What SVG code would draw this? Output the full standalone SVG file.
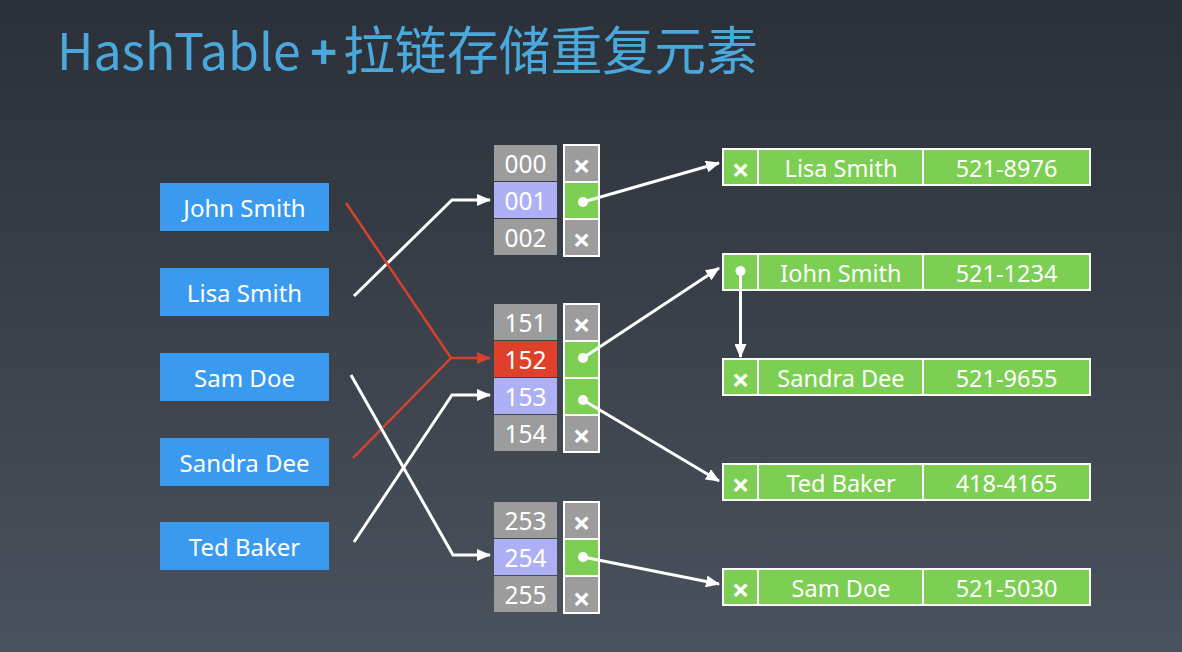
<svg xmlns="http://www.w3.org/2000/svg" width="1182" height="652" viewBox="0 0 1182 652">
  <defs>
    <linearGradient id="bg" x1="0" y1="0" x2="0" y2="1">
      <stop offset="0" stop-color="#2b3038"/>
      <stop offset="1" stop-color="#4a525d"/>
    </linearGradient>
    <marker id="arrow-white" viewBox="0 0 14 12" refX="13" refY="6" markerWidth="14" markerHeight="12" markerUnits="userSpaceOnUse" orient="auto">
      <path d="M0,0 L14,6 L0,12 z" fill="#ffffff"/>
    </marker>
    <marker id="arrow-red" viewBox="0 0 14 12" refX="13" refY="6" markerWidth="14" markerHeight="12" markerUnits="userSpaceOnUse" orient="auto">
      <path d="M0,0 L14,6 L0,12 z" fill="#d8412c"/>
    </marker>
  </defs>
  <style>
    text { font-family: "Noto Sans", "Noto Sans CJK SC", sans-serif; fill: #ffffff; text-anchor: middle; dominant-baseline: central; }
    .title { font-family: "Noto Sans CJK SC", "Noto Sans", sans-serif; fill: #4aa8dc; text-anchor: start; dominant-baseline: alphabetic; }
    .plus { font-family: "Noto Sans", sans-serif; font-weight: bold; }
    .key rect { fill: #3a9af0; }
    .key text { font-size: 24px; }
    .idx { font-size: 24.5px; }
    .gray { fill: #9c9c9c; }
    .lav { fill: #aeb0f5; }
    .hot { fill: #e0402a; }
    .cell { stroke: #ffffff; stroke-width: 2; }
    .green { fill: #7ccf52; }
    .entry rect { fill: #7ccf52; stroke: #ffffff; stroke-width: 2; }
    .entry text { font-size: 23.5px; }
    text.x, .entry text.x { font-size: 31px; font-weight: bold; }
    .dot { fill: #ffffff; }
    .wire { fill: none; stroke: #ffffff; stroke-width: 3; }
    .wire-red { fill: none; stroke: #d8412c; stroke-width: 2.5; }
  </style>

  <rect width="1182" height="652" fill="url(#bg)"/>

  <!-- title -->
  <text class="title" x="57" y="70" font-size="50">HashTable</text>
  <text class="title plus" x="310" y="69" font-size="48">+</text>
  <text class="title" x="343" y="70" font-size="52" textLength="415" lengthAdjust="spacingAndGlyphs">拉链存储重复元素</text>

  <!-- keys -->
  <g id="key-john" class="key"><rect x="160" y="183" width="169" height="48"/><text x="244.5" y="207">John Smith</text></g>
  <g id="key-lisa" class="key"><rect x="160" y="268" width="169" height="48"/><text x="244.5" y="292">Lisa Smith</text></g>
  <g id="key-sam" class="key"><rect x="160" y="353" width="169" height="48"/><text x="244.5" y="377">Sam Doe</text></g>
  <g id="key-sandra" class="key"><rect x="160" y="438" width="169" height="48"/><text x="244.5" y="462">Sandra Dee</text></g>
  <g id="key-ted" class="key"><rect x="160" y="522" width="169" height="48"/><text x="244.5" y="546">Ted Baker</text></g>

  <!-- bucket group 000-002 -->
  <g id="buckets-000">
    <rect class="gray" x="494" y="145" width="63" height="36"/><text class="idx" x="525.5" y="163">000</text>
    <rect class="lav" x="494" y="182" width="63" height="36"/><text class="idx" x="525.5" y="200">001</text>
    <rect class="gray" x="494" y="219" width="63" height="36"/><text class="idx" x="525.5" y="237">002</text>
    <rect class="cell gray" x="564" y="145" width="35" height="37"/><text class="x" x="581.5" y="165">×</text>
    <rect class="cell green" x="564" y="182" width="35" height="37"/><circle class="dot" cx="583" cy="202" r="5"/>
    <rect class="cell gray" x="564" y="219" width="35" height="37"/><text class="x" x="581.5" y="239">×</text>
  </g>

  <!-- bucket group 151-154 -->
  <g id="buckets-151">
    <rect class="gray" x="494" y="304" width="63" height="36"/><text class="idx" x="525.5" y="322">151</text>
    <rect class="hot" x="494" y="341" width="63" height="36"/><text class="idx" x="525.5" y="359">152</text>
    <rect class="lav" x="494" y="378" width="63" height="36"/><text class="idx" x="525.5" y="396">153</text>
    <rect class="gray" x="494" y="415" width="63" height="36"/><text class="idx" x="525.5" y="433">154</text>
    <rect class="cell gray" x="564" y="304" width="35" height="37"/><text class="x" x="581.5" y="324">×</text>
    <rect class="cell green" x="564" y="341" width="35" height="37"/><circle class="dot" cx="583" cy="358" r="5"/>
    <rect class="cell green" x="564" y="378" width="35" height="37"/><circle class="dot" cx="583" cy="400" r="5"/>
    <rect class="cell gray" x="564" y="415" width="35" height="37"/><text class="x" x="581.5" y="435">×</text>
  </g>

  <!-- bucket group 253-255 -->
  <g id="buckets-253">
    <rect class="gray" x="494" y="502" width="63" height="36"/><text class="idx" x="525.5" y="520">253</text>
    <rect class="lav" x="494" y="539" width="63" height="36"/><text class="idx" x="525.5" y="557">254</text>
    <rect class="gray" x="494" y="576" width="63" height="36"/><text class="idx" x="525.5" y="594">255</text>
    <rect class="cell gray" x="564" y="502" width="35" height="37"/><text class="x" x="581.5" y="522">×</text>
    <rect class="cell green" x="564" y="539" width="35" height="37"/><circle class="dot" cx="583" cy="557" r="5"/>
    <rect class="cell gray" x="564" y="576" width="35" height="37"/><text class="x" x="581.5" y="598">×</text>
  </g>

  <!-- chain entries -->
  <g id="entry-lisa" class="entry">
    <rect x="723" y="149" width="35" height="36"/><rect x="758" y="149" width="165" height="36"/><rect x="923" y="149" width="167" height="36"/>
    <text class="x" x="740.5" y="169">×</text><text x="841" y="168">Lisa Smith</text><text x="1006.5" y="168">521-8976</text>
  </g>
  <g id="entry-john" class="entry">
    <rect x="723" y="254" width="35" height="36"/><rect x="758" y="254" width="165" height="36"/><rect x="923" y="254" width="167" height="36"/>
    <circle class="dot" cx="740.5" cy="271" r="5"/><text x="841" y="273">Iohn Smith</text><text x="1006.5" y="273">521-1234</text>
  </g>
  <g id="entry-sandra" class="entry">
    <rect x="723" y="359" width="35" height="36"/><rect x="758" y="359" width="165" height="36"/><rect x="923" y="359" width="167" height="36"/>
    <text class="x" x="740.5" y="379">×</text><text x="841" y="378">Sandra Dee</text><text x="1006.5" y="378">521-9655</text>
  </g>
  <g id="entry-ted" class="entry">
    <rect x="723" y="464" width="35" height="36"/><rect x="758" y="464" width="165" height="36"/><rect x="923" y="464" width="167" height="36"/>
    <text class="x" x="740.5" y="484">×</text><text x="841" y="483">Ted Baker</text><text x="1006.5" y="483">418-4165</text>
  </g>
  <g id="entry-sam" class="entry">
    <rect x="723" y="569" width="35" height="36"/><rect x="758" y="569" width="165" height="36"/><rect x="923" y="569" width="167" height="36"/>
    <text class="x" x="740.5" y="589">×</text><text x="841" y="588">Sam Doe</text><text x="1006.5" y="588">521-5030</text>
  </g>

  <!-- connectors -->
  <g id="connectors">
    <polyline class="wire" points="354,296 452,200 490,200" marker-end="url(#arrow-white)"/>
    <polyline class="wire-red" points="346,203 451,358 490,358" marker-end="url(#arrow-red)"/>
    <polyline class="wire-red" points="353,458 451,358"/>
    <polyline class="wire" points="354,542 452,395 490,395" marker-end="url(#arrow-white)"/>
    <polyline class="wire" points="351,375 453,555 490,555" marker-end="url(#arrow-white)"/>
    <line class="wire" x1="583" y1="202" x2="719" y2="163" marker-end="url(#arrow-white)"/>
    <line class="wire" x1="583" y1="358" x2="719" y2="268" marker-end="url(#arrow-white)"/>
    <line class="wire" x1="583" y1="400" x2="719" y2="481" marker-end="url(#arrow-white)"/>
    <line class="wire" x1="583" y1="557" x2="719" y2="584" marker-end="url(#arrow-white)"/>
    <line class="wire" x1="740.5" y1="271" x2="740.5" y2="357" marker-end="url(#arrow-white)"/>
  </g>
</svg>
